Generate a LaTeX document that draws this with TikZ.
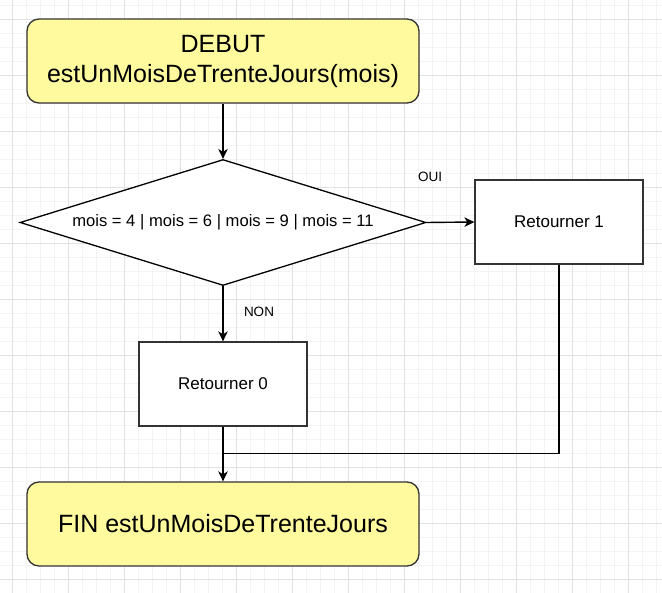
\documentclass[tikz,border=0pt]{standalone}
\usepackage{fontspec}
\setmainfont{Liberation Sans}
\usetikzlibrary{arrows.meta,shapes.geometric}
\definecolor{termfill}{RGB}{255,250,158}
\definecolor{boxline}{RGB}{51,51,51}
\definecolor{gridmajor}{RGB}{225,225,225}
\definecolor{gridminor}{RGB}{243,243,243}
\tikzset{
  terminal/.style={draw=boxline, fill=termfill, rounded corners=12pt, line width=1.3pt,
    minimum width=392pt, minimum height=84pt, align=center, inner sep=0pt,
    font=\fontsize{25}{30}\selectfont},
  actionbox/.style={draw=boxline, fill=white, line width=1.3pt, minimum width=168pt,
    minimum height=84pt, inner sep=0pt, font=\fontsize{17}{20}\selectfont},
  decision/.style={draw=black, fill=white, diamond, aspect=3.2, line width=1.3pt,
    minimum width=406pt, minimum height=126pt, inner sep=0pt,
    font=\fontsize{16.6}{20}\selectfont},
  flow/.style={draw=black, line width=1.4pt, -{Stealth[length=10pt,width=9.5pt,inset=3pt]}},
  plainline/.style={draw=black, line width=1.4pt},
  edgelabel/.style={font=\fontsize{13.5}{16}\selectfont, inner sep=0pt},
  minorgrid/.style={draw=gridminor, line width=0.9pt},
  majorgrid/.style={draw=gridmajor, line width=0.9pt}
}
\begin{document}
\begin{tikzpicture}[x=1pt,y=-1pt]
\fill[white] (0,0) rectangle (662,593);
\useasboundingbox (0,0) rectangle (662,593);
\foreach \i in {0,...,48} \draw[minorgrid] ({-2+14*\i},0) -- ({-2+14*\i},593);
\foreach \i in {0,...,42} \draw[minorgrid] (0,{5.7+14*\i}) -- (662,{5.7+14*\i});
\foreach \i in {0,...,11} \draw[majorgrid] ({12+56*\i},0) -- ({12+56*\i},593);
\foreach \i in {0,...,10} \draw[majorgrid] (0,{19.7+56*\i}) -- (662,{19.7+56*\i});

\node[terminal] (debut) at (223,61) {DEBUT\\estUnMoisDeTrenteJours(mois)};
\node[decision] (cond) at (223,222.5) {mois = 4 | mois = 6 | mois = 9 | mois = 11};
\node[actionbox] (ret1) at (559,222) {Retourner 1};
\node[actionbox] (ret0) at (223,384) {Retourner 0};
\node[terminal] (fin) at (223,524) {FIN estUnMoisDeTrenteJours};
\coordinate (join) at (223,453.5);

\draw[flow] (debut) -- (cond);
\draw[flow] (cond.east) -- (ret1.west);
\draw[flow] (cond.south) -- (ret0.north);
\draw[flow] (ret0) -- (fin);
\draw[plainline] (ret1.south) |- (join);

\node[edgelabel] (oui) at (430,177) {OUI};
\node[edgelabel] (non) at (259,312) {NON};
\end{tikzpicture}
\end{document}
